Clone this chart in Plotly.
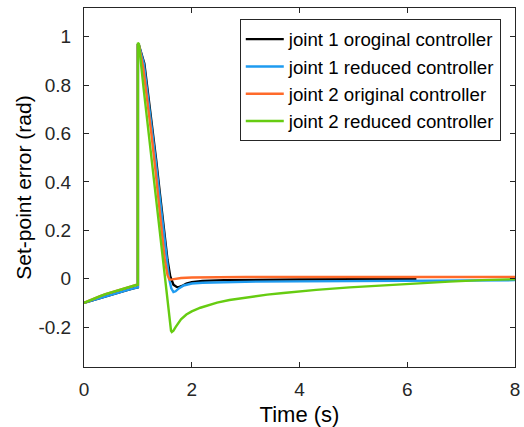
import plotly.graph_objects as go

# ---- data ----
t_pre = [0.0, 0.1, 0.2, 0.3, 0.4, 0.5, 0.6, 0.7, 0.8, 0.9, 1.0]
pre_j1 = [-0.100, -0.093, -0.086, -0.079, -0.072, -0.065, -0.059, -0.053, -0.047, -0.041, -0.036]
pre_j2 = [-0.100, -0.090, -0.081, -0.072, -0.064, -0.057, -0.050, -0.043, -0.036, -0.030, -0.024]

t_j1_orig = [1.0, 1.02, 1.12, 1.20, 1.28, 1.34, 1.41, 1.48, 1.55, 1.60, 1.66, 1.72, 1.76, 1.82, 1.90,
             2.0, 2.2, 2.6, 3.2, 4.0, 5.0, 6.17]
y_j1_orig = [0.970, 0.965, 0.89, 0.75, 0.615, 0.49, 0.35, 0.215, 0.077, 0.01, -0.025, -0.034, -0.035,
             -0.030, -0.020, -0.014, -0.009, -0.006, -0.004, -0.003, -0.002, -0.002]

t_j1_red = [1.0, 1.02, 1.11, 1.19, 1.27, 1.33, 1.40, 1.47, 1.53, 1.58, 1.62, 1.66, 1.70, 1.76, 1.85,
            2.0, 2.2, 2.6, 3.2, 4.0, 5.0, 6.0, 7.0, 8.0]
y_j1_red = [0.970, 0.965, 0.89, 0.75, 0.615, 0.49, 0.35, 0.215, 0.09, 0.0, -0.04, -0.055, -0.052,
            -0.040, -0.028, -0.020, -0.017, -0.014, -0.012, -0.011, -0.010, -0.009, -0.008, -0.006]

t_j2_orig = [1.0, 1.02, 1.10, 1.18, 1.25, 1.32, 1.38, 1.44, 1.50, 1.55, 1.59, 1.64, 1.70, 1.8,
             2.0, 2.2, 3.0, 4.0, 5.0, 6.0, 7.0, 8.0]
y_j2_orig = [0.970, 0.965, 0.87, 0.73, 0.60, 0.46, 0.33, 0.20, 0.077, 0.015, -0.004, -0.003, 0.0,
             0.003, 0.005, 0.006, 0.007, 0.007, 0.007, 0.007, 0.007, 0.007]

t_j2_red = [1.0, 1.02, 1.11, 1.19, 1.27, 1.34, 1.405, 1.45, 1.50, 1.55, 1.59, 1.615, 1.63, 1.66,
            1.70, 1.75, 1.80, 1.90, 2.0, 2.16, 2.3, 2.47, 2.7, 3.08, 3.40, 3.70, 4.0, 4.31, 4.93,
            5.55, 6.16, 6.78, 7.39, 8.0]
y_j2_red = [0.975, 0.97, 0.78, 0.62, 0.47, 0.34, 0.215, 0.12, 0.02, -0.085, -0.17, -0.215, -0.22,
            -0.215, -0.20, -0.183, -0.168, -0.148, -0.135, -0.12, -0.11, -0.099, -0.088, -0.075,
            -0.066, -0.059, -0.052, -0.046, -0.036, -0.027, -0.019, -0.012, -0.006, -0.002]

names = ["joint 1 oroginal controller", "joint 1 reduced controller",
         "joint 2 original controller", "joint 2 reduced controller"]
colors = ["#000000", "#1E9BF0", "#FF6A2A", "#66CC11"]

x_ticks = [0, 2, 4, 6, 8]
y_ticks = [-0.2, 0, 0.2, 0.4, 0.6, 0.8, 1]
y_ticktext = ["-0.2", "0", "0.2", "0.4", "0.6", "0.8", "1"]

series = [
    (t_pre + t_j1_orig, pre_j1 + y_j1_orig),
    (t_pre + t_j1_red, pre_j1 + y_j1_red),
    (t_pre + t_j2_orig, pre_j2 + y_j2_orig),
    (t_pre + t_j2_red, pre_j2 + y_j2_red),
]

FONT = "Liberation Sans, Arial, sans-serif"
AX = "#262626"

fig = go.Figure()
for (xs, ys), n, c in zip(series, names, colors):
    fig.add_trace(go.Scatter(x=xs, y=ys, mode="lines", name=n,
                             line=dict(color=c, width=2.4)))

fig.update_layout(
    width=524, height=427,
    margin=dict(l=84, r=9, t=8, b=60),
    paper_bgcolor="white", plot_bgcolor="white",
    font=dict(family=FONT, color=AX, size=19),
    showlegend=True,
    legend=dict(x=0.967, y=0.968, xanchor="right", yanchor="top",
                bgcolor="white", bordercolor=AX, borderwidth=1, itemwidth=38,
                font=dict(size=18.7, color="#000000"), tracegroupgap=0),
    xaxis=dict(range=[0, 8], tickvals=x_ticks, ticks="inside", ticklen=5, tickcolor=AX,
               showline=True, linecolor=AX, linewidth=1, mirror="ticks",
               showgrid=False, zeroline=False, automargin=False,
               tickfont=dict(size=19, color=AX), ticklabelstandoff=5,
               title=dict(text="Time (s)", font=dict(size=22, color="#000000"), standoff=13)),
    yaxis=dict(range=[-0.365, 1.119], tickvals=y_ticks, ticktext=y_ticktext,
               ticks="inside", ticklen=5, tickcolor=AX,
               showline=True, linecolor=AX, linewidth=1, mirror="ticks",
               showgrid=False, zeroline=False, automargin=False,
               tickfont=dict(size=19, color=AX), ticklabelstandoff=8,
               title=dict(text="Set-point error (rad)", font=dict(size=21, color="#000000"), standoff=1)),
)

fig.write_html("out.html")
